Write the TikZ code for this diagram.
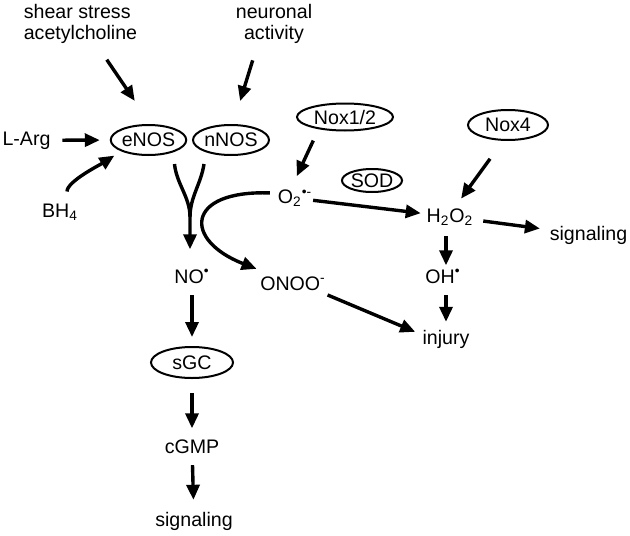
\documentclass[tikz,border=0pt]{standalone}
\usepackage{fontspec}
\setmainfont{Liberation Sans}
\usetikzlibrary{shapes,arrows.meta}

\begin{document}
\begin{tikzpicture}[x=0.5pt, y=-0.5pt, font=\fontsize{9.8}{10.5}\selectfont]
\tikzstyle{enzyme} = [ellipse, draw, line width=1pt, inner sep=0pt, minimum height=15pt]
\tikzstyle{species} = [inner sep=0pt, outer sep=0pt, anchor=base]
\tikzstyle{stimulus} = [inner sep=0pt, outer sep=0pt]
\tikzstyle{arrow} = [line width=1.7pt, -{Triangle[length=7.5pt,width=6.5pt]}]
\tikzstyle{branch} = [line width=1.7pt]

\useasboundingbox (0,0) rectangle (630,535);

\node [stimulus, align=left] (shear) at (80.5,23.5) {shear stress\\acetylcholine};
\node [stimulus, align=center] (neuro) at (274,23.5) {neuronal\\activity};

\node [enzyme, minimum width=36.5pt] (eNOS) at (148.5,140) {eNOS};
\node [enzyme, minimum width=38pt] (nNOS) at (231,140) {nNOS};
\node [enzyme, minimum width=48pt, minimum height=13.5pt] (nox12) at (345,117) {Nox1/2};
\node [enzyme, minimum width=30pt, minimum height=11.5pt] (sod) at (372,180.5) {SOD};
\node [enzyme, minimum width=40pt] (nox4) at (508,125) {Nox4};
\node [enzyme, minimum width=41pt, minimum height=15.5pt] (sgc) at (192,362.5) {sGC};

\node [species] (lArg) at (26.5,145) {L-Arg};
\node [species] (bh4) at (60,217) {BH\textsubscript{4}};
\node [species] (no) at (192,283) {NO\textsuperscript{\textbullet}};
\node [species] (o2) at (295,203.5) {O\textsubscript{2}\textsuperscript{\textbullet-}};
\node [species] (onoo) at (293,290) {ONOO\textsuperscript{-}};
\node [species] (h2o2) at (450,222) {H\textsubscript{2}O\textsubscript{2}};
\node [species] (sigR) at (588.5,240) {signaling};
\node [species] (oh) at (443,283) {OH\textsuperscript{\textbullet}};
\node [species] (injury) at (446,344) {injury};
\node [species] (cgmp) at (192,453) {cGMP};
\node [species] (sigB) at (194,526) {signaling};

\coordinate (merge) at (190,217);

% NOS inputs
\draw [arrow, shorten <=10pt, shorten >=14pt] ([xshift=7.5pt]shear.south) -- ([xshift=1pt]eNOS.north);
\draw [arrow, shorten <=9pt, shorten >=12pt] ([xshift=-8pt]neuro.south) -- ([xshift=1pt]nNOS.north);
\draw [arrow, shorten <=6pt, shorten >=5pt] (lArg) -- (eNOS);
\draw [arrow, shorten <=6pt, shorten >=4pt] ([xshift=3.5pt]bh4.north) .. controls +(0,-22) and +(-22,14) .. (eNOS.south west);

% NO branch
\draw [arrow, shorten >=10pt] ([xshift=13pt,yshift=-4pt]eNOS.south) .. controls +(2,20) and +(0,-20) .. (merge) -- (merge |- no.north);
\draw [branch] ([xshift=-13.5pt,yshift=-4pt]nNOS.south) .. controls +(-3,20) and +(0,-20) .. (merge);
\draw [arrow, shorten <=6pt, shorten >=4.5pt] (no) -- (sgc);
\draw [arrow, shorten <=7pt, shorten >=5.5pt] (sgc) -- (cgmp);
\draw [arrow, shorten <=6pt, shorten >=6pt] (cgmp) -- (sigB);

% ROS branch
\draw [arrow, shorten <=5pt, shorten >=7.5pt] ([xshift=-13.75pt]nox12.south) -- ([xshift=-2.3pt]o2.north);
\draw [arrow, shorten <=0.5pt, shorten >=3pt] (o2) -- (h2o2);
\draw [arrow, shorten <=4pt, shorten >=2pt] ([yshift=2.5pt]o2.west) .. controls +(-93,-3) and +(-77,-30) .. ([yshift=3pt]onoo.north west);
\draw [arrow, shorten <=1pt, shorten >=4pt] ([yshift=-2pt]onoo.south east) -- ([yshift=2pt]injury.west);
\draw [arrow, shorten <=11pt, shorten >=6pt] ([xshift=-2.5pt]nox4.south) -- ([xshift=2pt]h2o2.north);
\draw [arrow, shorten <=5pt, shorten >=5pt] (h2o2) -- (sigR);
\draw [arrow, shorten <=5.5pt, shorten >=2pt] (h2o2.south -| injury) -- (oh.north -| injury);
\draw [arrow, shorten <=6pt, shorten >=4pt] (oh.south -| injury) -- (injury.north);
\end{tikzpicture}
\end{document}
